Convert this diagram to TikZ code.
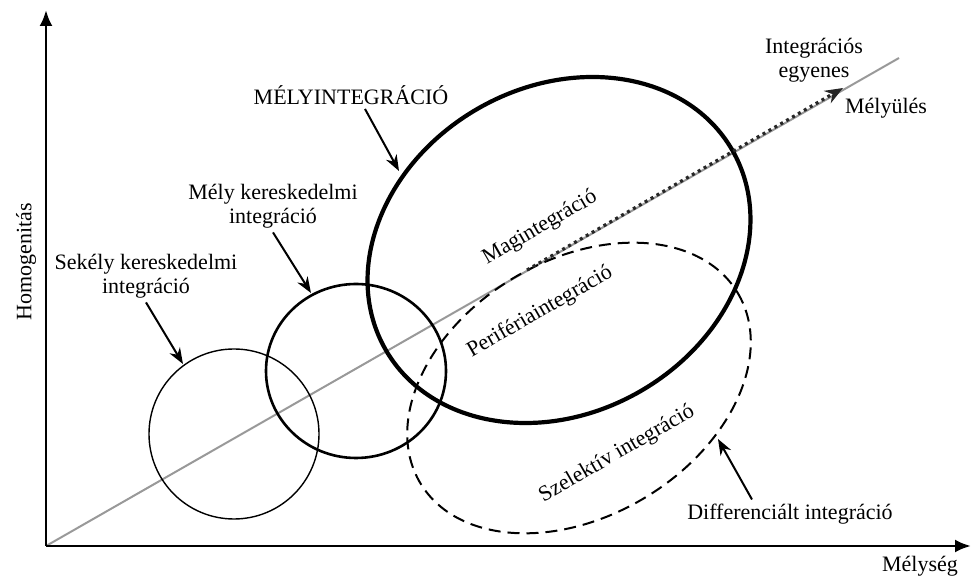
\documentclass[tikz,border=0pt]{standalone}
\usepackage{fontspec}
\setmainfont{Liberation Serif}
\usetikzlibrary{arrows.meta}

\begin{document}
\begin{tikzpicture}[x=0.5pt,y=-0.5pt,
						lbl/.style={font=\fontsize{11}{12}\selectfont, align=center, inner sep=2pt},
						axis/.style={line width=1.4pt, -{Latex[length=8pt,width=6.5pt]}},
						pointer/.style={line width=1pt, -{Stealth[length=8pt,width=6pt]}},
						]
						\useasboundingbox (0,0) rectangle (971,576);
						%Coordinates
						\coordinate (O)      at (46,546);
						\coordinate (xend)   at (971,546);
						\coordinate (yend)   at (46,10);
						\coordinate (lend)   at (899,58);
						\coordinate (dstart) at (527,270);
						\coordinate (dend)   at (843,88);
						\coordinate (tmely)   at (399,171);
						\coordinate (tkmely)  at (311,293);
						\coordinate (tsekely) at (183,364);
						\coordinate (tdiff)   at (718,439);
						
						%Nodes
						\node[lbl]            (mely)    at (351,95)   {MÉLYINTEGRÁCIÓ};
						\node[lbl]            (kmely)   at (273,206)  {Mély kereskedelmi\\integráció};
						\node[lbl]            (ksekely) at (146,276)  {Sekély kereskedelmi\\integráció};
						\node[lbl]            (egyenes) at (814,60)   {Integrációs\\egyenes};
						\node[lbl]            (melyul)  at (886,108)  {Mélyülés};
						\node[lbl]            (diff)    at (790,514)  {Differenciált integráció};
						\node[lbl]            (xlabel)  at (920,566)  {Mélység};
						\node[lbl, rotate=90] (ylabel)  at (26,262)   {Homogenitás};
						\node[lbl, rotate=30] (mag)     at (540,228)  {Magintegráció};
						\node[lbl, rotate=30] (peri)    at (540,312)  {Perifériaintegráció};
						\node[lbl, rotate=30] (szel)    at (617,454)  {Szelektív integráció};
						
						%Axes and line
						\draw[black!40, line width=1pt] (O) -- (lend);
						\draw[axis] (O) -- (xend);
						\draw[axis] (O) -- (yend);
						
						%Circles
						\draw[line width=0.7pt] (234,434) circle [radius=85];
						\draw[line width=1.3pt] (356,371) ellipse [x radius=90, y radius=87];
						\draw[line width=2.1pt, rotate around={30:(559,250)}] (559,250) ellipse [x radius=200, y radius=163];
						\draw[line width=1pt, dash pattern=on 6pt off 3.5pt, rotate around={31:(579,388)}] (579,388) ellipse [x radius=185, y radius=128];
						
						%Deepening
						\draw[black!85, line width=1.6pt, dash pattern=on 1.5pt off 1.9pt, -{Stealth[length=9pt,width=7pt]}] (dstart) -- (dend);
						
						%Pointers
						\draw[pointer] ([xshift=7pt]mely.south) -- (tmely);
						\draw[pointer] (kmely.south) -- (tkmely);
						\draw[pointer] (ksekely.south) -- (tsekely);
						\draw[pointer] ([xshift=-19pt]diff.north) -- (tdiff);
					\end{tikzpicture}
\end{document}
